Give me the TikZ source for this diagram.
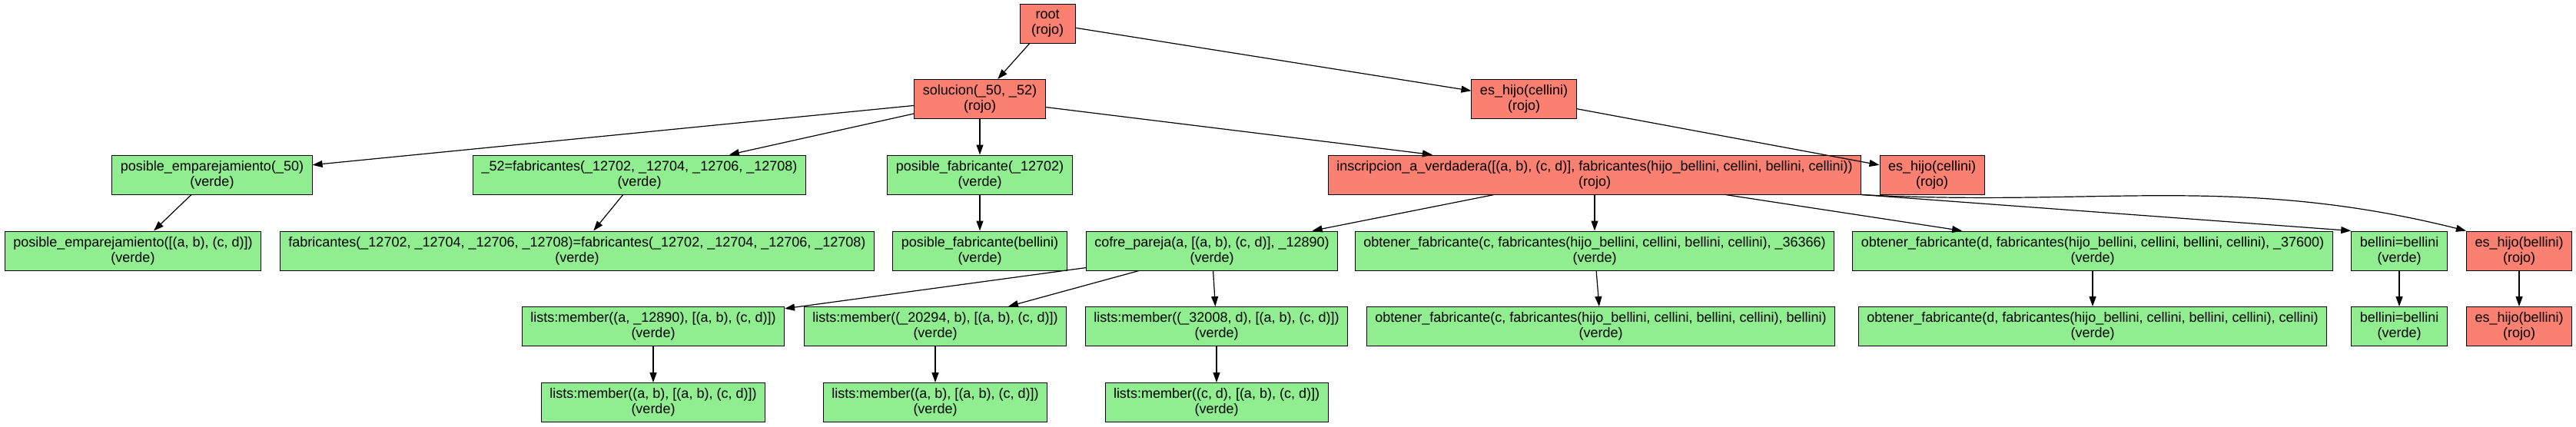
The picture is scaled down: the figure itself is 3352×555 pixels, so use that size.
\documentclass[tikz,border=0pt]{standalone}
\usepackage{fontspec}
\setmainfont{Liberation Sans}
\usepackage{tikz}
\usetikzlibrary{arrows.meta}
\definecolor{hexcolor0xfa8072}{rgb}{0.980,0.502,0.447}
\definecolor{hexcolor0x90ee90}{rgb}{0.565,0.933,0.565}
\definecolor{myblack}{rgb}{0.000,0.000,0.000}
\definecolor{mywhite}{rgb}{1.000,1.000,1.000}
\tikzstyle{caja}=[rectangle,draw=myblack,line width=1pt,align=center,inner xsep=11pt,inner ysep=0pt,minimum height=51pt,minimum width=72pt,font=\fontsize{18}{20}\selectfont]
\tikzstyle{rojo}=[caja,fill=hexcolor0xfa8072]
\tikzstyle{verde}=[caja,fill=hexcolor0x90ee90]
\tikzstyle{flecha}=[draw=myblack,line width=1.2pt,-{Triangle[length=13pt,width=9pt]}]

\begin{document}
\begin{tikzpicture}[x=1pt,y=-1pt]
	\useasboundingbox[fill=mywhite] (0,0) rectangle (3352,555);
	% nivel 0 y 1
		\node [style=rojo] (0) at (1363, 30.5) {root\\(rojo)};
		\node [style=rojo] (1) at (1275, 129) {solucion(\_50, \_52)\\(rojo)};
		\node [style=rojo] (2) at (1983, 129) {es\_hijo(cellini)\\(rojo)};
	% nivel 2
		\node [style=verde] (3) at (276, 227.5) {posible\_emparejamiento(\_50)\\(verde)};
		\node [style=verde] (4) at (832, 227.5) {\_52=fabricantes(\_12702, \_12704, \_12706, \_12708)\\(verde)};
		\node [style=verde] (5) at (1275, 227.5) {posible\_fabricante(\_12702)\\(verde)};
		\node [style=rojo] (6) at (2075, 227.5) {inscripcion\_a\_verdadera([(a, b), (c, d)], fabricantes(hijo\_bellini, cellini, bellini, cellini))\\(rojo)};
		\node [style=rojo] (7) at (2514, 227.5) {es\_hijo(cellini)\\(rojo)};
	% nivel 3
		\node [style=verde] (8) at (173, 326.5) {posible\_emparejamiento([(a, b), (c, d)])\\(verde)};
		\node [style=verde] (9) at (751, 326.5) {fabricantes(\_12702, \_12704, \_12706, \_12708)=fabricantes(\_12702, \_12704, \_12706, \_12708)\\(verde)};
		\node [style=verde] (10) at (1275, 326.5) {posible\_fabricante(bellini)\\(verde)};
		\node [style=verde] (11) at (1577, 326.5) {cofre\_pareja(a, [(a, b), (c, d)], \_12890)\\(verde)};
		\node [style=verde] (12) at (2075, 326.5) {obtener\_fabricante(c, fabricantes(hijo\_bellini, cellini, bellini, cellini), \_36366)\\(verde)};
		\node [style=verde] (13) at (2723, 326.5) {obtener\_fabricante(d, fabricantes(hijo\_bellini, cellini, bellini, cellini), \_37600)\\(verde)};
		\node [style=verde] (14) at (3122, 326.5) {bellini=bellini\\(verde)};
		\node [style=rojo] (15) at (3278, 326.5) {es\_hijo(bellini)\\(rojo)};
	% nivel 4
		\node [style=verde] (16) at (850, 425) {lists:member((a, \_12890), [(a, b), (c, d)])\\(verde)};
		\node [style=verde] (17) at (1217, 425) {lists:member((\_20294, b), [(a, b), (c, d)])\\(verde)};
		\node [style=verde] (18) at (1583, 425) {lists:member((\_32008, d), [(a, b), (c, d)])\\(verde)};
		\node [style=verde] (19) at (2083, 425) {obtener\_fabricante(c, fabricantes(hijo\_bellini, cellini, bellini, cellini), bellini)\\(verde)};
		\node [style=verde] (20) at (2723, 425) {obtener\_fabricante(d, fabricantes(hijo\_bellini, cellini, bellini, cellini), cellini)\\(verde)};
		\node [style=verde] (21) at (3122, 425) {bellini=bellini\\(verde)};
		\node [style=rojo] (22) at (3278, 425) {es\_hijo(bellini)\\(rojo)};
	% nivel 5
		\node [style=verde] (23) at (850, 524) {lists:member((a, b), [(a, b), (c, d)])\\(verde)};
		\node [style=verde] (24) at (1217, 524) {lists:member((a, b), [(a, b), (c, d)])\\(verde)};
		\node [style=verde] (25) at (1583, 524) {lists:member((c, d), [(a, b), (c, d)])\\(verde)};

	% aristas
		\draw [style=flecha] (0) to (1);
		\draw [style=flecha] (0) to (2);
		\draw [style=flecha] (1) to (3);
		\draw [style=flecha] (1) to (4);
		\draw [style=flecha] (1) to (5);
		\draw [style=flecha] (1) to (6);
		\draw [style=flecha] (2) to (7);
		\draw [style=flecha] (3) to (8);
		\draw [style=flecha] (4) to (9);
		\draw [style=flecha] (5) to (10);
		\draw [style=flecha] (6) to (11);
		\draw [style=flecha] (6) to (12);
		\draw [style=flecha] (6) to (13);
		\draw [style=flecha] (6.south east) to (14.north west);
		\draw [style=flecha] (6.south east) to[out=-3, in=166] (15.north west);
		\draw [style=flecha] (11) to (16);
		\draw [style=flecha] (11) to (17);
		\draw [style=flecha] (11) to (18);
		\draw [style=flecha] (12) to (19);
		\draw [style=flecha] (13) to (20);
		\draw [style=flecha] (14) to (21);
		\draw [style=flecha] (15) to (22);
		\draw [style=flecha] (16) to (23);
		\draw [style=flecha] (17) to (24);
		\draw [style=flecha] (18) to (25);
\end{tikzpicture}
\end{document}
